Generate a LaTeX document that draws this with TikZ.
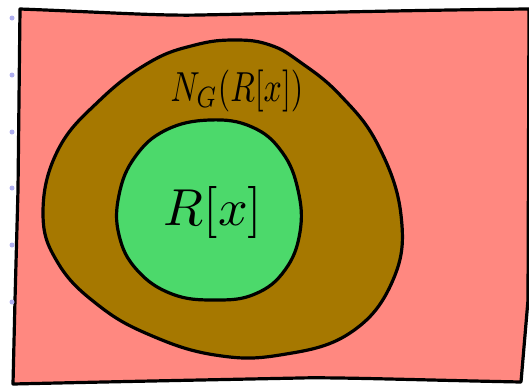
\documentclass[tikz,border=0pt]{standalone}
\usepackage{graphicx}
\usepackage{tikz}
\definecolor{bgpink}{RGB}{255,136,128}
\definecolor{brownfill}{RGB}{166,120,0}
\definecolor{greenfill}{RGB}{76,217,107}
\definecolor{dotblue}{RGB}{175,175,240}
\tikzset{
  sketch/.style={draw=black, line width=3.2pt, line join=round, line cap=round},
  bluedot/.style={circle, fill=dotblue, inner sep=0pt, minimum size=5pt},
}
\begin{document}
\begin{tikzpicture}[x=1pt,y=-1pt]
\useasboundingbox (0,0) rectangle (529,388);
% outer frame
\path[sketch, fill=bgpink] (20,9) .. controls (100,12) and (160,16) .. (200,15)
  .. controls (300,13) and (420,10) .. (529,9)
  -- (528,300) -- (521,382)
  .. controls (420,380) and (330,377) .. (300,378)
  .. controls (200,380) and (100,382) .. (13,384)
  -- (15,300) -- (18,190) -- cycle;
% brown blob
\path[sketch, fill=brownfill] plot[smooth cycle, tension=0.7] coordinates {
  (235,40) (270,45) (300,62) (340,95) (378,145) (401,215) (393,280) (350,333)
  (280,355) (215,355) (150,335) (98,305) (58,263) (43,213) (58,150)
  (100,100) (150,62) (195,45)};
% green blob
\path[sketch, fill=greenfill] plot[smooth cycle, tension=0.7] coordinates {
  (210,120) (252,127) (282,152) (298,190) (300,232) (285,270) (255,294)
  (215,300) (172,294) (137,270) (119,235) (119,195) (135,157) (166,130)};
% labels
\node (outer) at (237,91) {\scalebox{3.2}[4.2]{$N_G(R[x])$}};
\node (inner) at (213,212) {\scalebox{5.2}{$R[x]$}};
% dots on the left
\foreach \i/\yy in {1/18,2/75,3/132,4/188,5/245,6/302}
  \node[bluedot] (dot\i) at (12,\yy) {};
\end{tikzpicture}
\end{document}
